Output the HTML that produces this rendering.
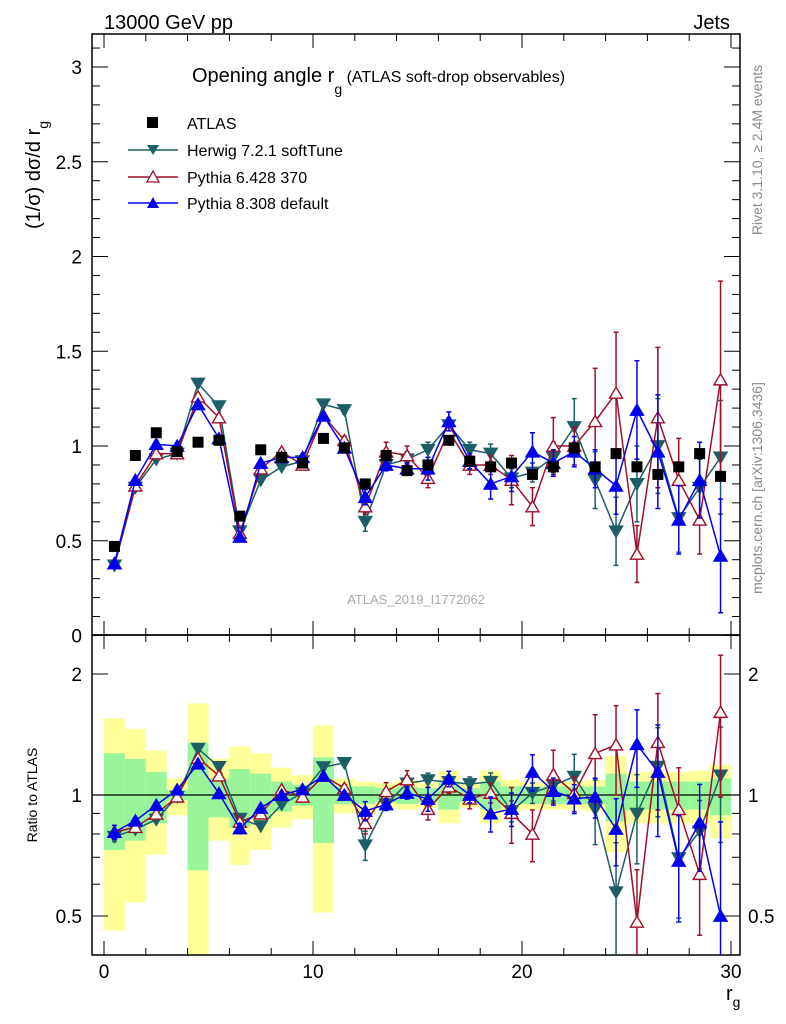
<!DOCTYPE html>
<html><head><meta charset="utf-8"><style>
html,body{margin:0;background:#fff;overflow:hidden;width:786px;height:1024px;}
svg{display:block;font-family:"Liberation Sans",sans-serif;overflow:hidden;}
</style></head><body>
<svg id="chart" width="786" height="1024" viewBox="0 0 786 1024">
<text x="104" y="29" font-size="20">13000 GeV pp</text>
<text x="730" y="29" font-size="20" text-anchor="end">Jets</text>
<text x="192" y="82" font-size="20">Opening angle r<tspan font-size="14" dy="12">g</tspan><tspan font-size="16" dy="-12"> (ATLAS soft-drop observables)</tspan></text>
<text transform="translate(40,175) rotate(-90)" font-size="20" text-anchor="middle">(1/σ) dσ/d r<tspan font-size="14" dy="8">g</tspan></text>
<text transform="translate(37,795) rotate(-90)" font-size="14" text-anchor="middle">Ratio to ATLAS</text>
<text transform="translate(762,150) rotate(-90)" font-size="14" fill="#888" text-anchor="middle">Rivet 3.1.10, ≥ 2.4M events</text>
<text transform="translate(762,488) rotate(-90)" font-size="14" fill="#888" text-anchor="middle">mcplots.cern.ch [arXiv:1306.3436]</text>
<text x="416" y="604" font-size="13" fill="#aaa" text-anchor="middle">ATLAS_2019_I1772062</text>
<text x="726" y="1000" font-size="20">r<tspan font-size="14" dy="7">g</tspan></text>
<g id="bands"></g><g id="axes"></g><g id="marks"></g>
<g>
<rect x="147" y="117" width="11" height="11" fill="#000"/>
<text x="187" y="129" font-size="16">ATLAS</text>
<line x1="128" y1="150" x2="178" y2="150" stroke="#1d5e66" stroke-width="1.5"/>
<path d="M147,145 L159,145 L153,155Z" fill="#1d5e66"/>
<text x="187" y="156" font-size="16">Herwig 7.2.1 softTune</text>
<line x1="128" y1="177" x2="178" y2="177" stroke="#a0102a" stroke-width="1.5"/>
<path d="M147,182 L159,182 L153,171Z" fill="#fff" stroke="#a0102a" stroke-width="1.3"/>
<text x="187" y="183" font-size="16">Pythia 6.428 370</text>
<line x1="128" y1="203" x2="178" y2="203" stroke="#0000ee" stroke-width="1.5"/>
<path d="M147,208 L159,208 L153,197Z" fill="#0000ee"/>
<text x="187" y="209" font-size="16">Pythia 8.308 default</text>
</g>
</svg>
<script>
const bins=[0.5,1.5,2.5,3.5,4.5,5.5,6.5,7.5,8.5,9.5,10.5,11.5,12.5,13.5,14.5,15.5,16.5,17.5,18.5,19.5,20.5,21.5,22.5,23.5,24.5,25.5,26.5,27.5,28.5,29.5];
const atlas=[0.47,0.95,1.07,0.97,1.02,1.03,0.63,0.98,0.94,0.91,1.04,0.99,0.80,0.95,0.87,0.90,1.03,0.92,0.89,0.91,0.85,0.89,0.99,0.89,0.96,0.89,0.85,0.89,0.96,0.84];
const herwig=[0.37,0.78,0.93,0.96,1.33,1.21,0.55,0.82,0.89,0.92,1.22,1.19,0.60,0.90,0.93,0.98,1.11,0.98,0.96,0.83,0.86,0.94,1.10,0.82,0.55,0.80,1.00,0.62,0.78,0.94];
const herwigErr=[0.01,0.01,0.01,0.01,0.01,0.01,0.01,0.01,0.01,0.01,0.01,0.02,0.05,0.03,0.04,0.04,0.04,0.04,0.05,0.05,0.05,0.08,0.15,0.15,0.18,0.2,0.25,0.18,0.15,0.3];
const py6=[0.38,0.79,0.96,0.96,1.26,1.15,0.54,0.88,0.97,0.90,1.16,1.03,0.68,0.97,0.95,0.83,1.08,0.90,0.90,0.82,0.68,1.00,1.00,1.13,1.28,0.43,1.15,0.82,0.61,1.35];
const py6Err=[0.015,0.015,0.015,0.015,0.015,0.015,0.015,0.015,0.015,0.015,0.015,0.02,0.04,0.05,0.05,0.05,0.04,0.05,0.05,0.13,0.1,0.15,0.1,0.28,0.32,0.15,0.37,0.22,0.18,0.52];
const py8=[0.38,0.82,1.01,1.00,1.22,1.04,0.52,0.91,0.94,0.94,1.16,0.99,0.73,0.90,0.88,0.88,1.13,0.92,0.80,0.84,0.97,0.91,0.97,0.88,0.79,1.19,0.97,0.61,0.82,0.42];
const py8Err=[0.015,0.015,0.015,0.015,0.015,0.015,0.015,0.015,0.015,0.015,0.015,0.02,0.04,0.03,0.03,0.06,0.05,0.04,0.08,0.08,0.1,0.07,0.08,0.1,0.15,0.26,0.3,0.18,0.2,0.3];
const yellowHi=[1.55,1.46,1.29,1.10,1.69,1.23,1.32,1.27,1.17,1.12,1.49,1.10,1.08,1.07,1.09,1.07,1.15,1.07,1.15,1.09,1.08,1.08,1.08,1.09,1.25,1.14,1.14,1.14,1.15,1.19];
const yellowLo=[0.46,0.54,0.71,0.89,0.30,0.77,0.67,0.73,0.83,0.87,0.51,0.90,0.90,0.93,0.92,0.93,0.85,0.93,0.85,0.91,0.92,0.92,0.92,0.91,0.72,0.85,0.85,0.85,0.85,0.78];
const greenHi=[1.27,1.23,1.14,1.03,1.35,1.10,1.16,1.13,1.08,1.06,1.24,1.05,1.05,1.04,1.05,1.04,1.08,1.04,1.08,1.05,1.05,1.05,1.05,1.05,1.13,1.08,1.08,1.08,1.08,1.10];
const greenLo=[0.73,0.77,0.85,0.97,0.65,0.88,0.83,0.87,0.91,0.94,0.76,0.95,0.95,0.96,0.95,0.96,0.92,0.96,0.92,0.95,0.95,0.95,0.95,0.95,0.86,0.92,0.92,0.92,0.92,0.89];
const mainTicks=[0,0.5,1,1.5,2,2.5,3];
const mainTickLabels=["0","0.5","1","1.5","2","2.5","3"];
const ratioTicks=[0.5,1,2];
const ratioTickLabels=["0.5","1","2"];
const xTicks=[0,10,20,30];
const xTickLabels=["0","10","20","30"];

const NS="http://www.w3.org/2000/svg";
const L=92,R=740,T=34,MB=635,RB=955;
const X=v=>104+v*20.9;
const Y=v=>635.5-189.5*v;
const YR=r=>795-402*Math.log10(r);
function el(tag,a,p){const e=document.createElementNS(NS,tag);for(const k in a)e.setAttribute(k,a[k]);p.appendChild(e);return e;}
const bandsG=document.getElementById('bands'),axesG=document.getElementById('axes'),marksG=document.getElementById('marks');
const clipTop=el('clipPath',{id:'cm'},marksG);el('rect',{x:L,y:T,width:R-L,height:MB-T},clipTop);
const clipBot=el('clipPath',{id:'cr'},marksG);el('rect',{x:L,y:MB,width:R-L,height:RB-MB},clipBot);
const bandClip=el('g',{'clip-path':'url(#cr)'},bandsG);
bins.forEach((b,i)=>{
  const x0=X(b-0.5),w=20.9;
  const y=el('rect',{x:x0,y:YR(yellowHi[i]),width:w,height:YR(yellowLo[i])-YR(yellowHi[i]),fill:'#ffff99'},bandClip);
  
  
  const g=el('rect',{x:x0,y:YR(greenHi[i]),width:w,height:YR(greenLo[i])-YR(greenHi[i]),fill:'#99f599'},bandClip);
  
  
});
el('rect',{x:L,y:T,width:R-L,height:MB-T,fill:'none',stroke:'#000','stroke-width':1.5},axesG);
el('rect',{x:L,y:MB,width:R-L,height:RB-MB,fill:'none',stroke:'#000','stroke-width':1.5},axesG);
el('line',{x1:L,y1:YR(1),x2:R,y2:YR(1),stroke:'#000','stroke-width':1.3},axesG);
for(let v=0;v<=3.25;v+=0.1){const y=Y(v);if(y<T)break;const maj=Math.abs(v*2-Math.round(v*2))<1e-6;const len=maj?16:8;
 el('line',{x1:L,y1:y,x2:L+len,y2:y,stroke:'#000'},axesG);el('line',{x1:R,y1:y,x2:R-len,y2:y,stroke:'#000'},axesG);}
mainTicks.forEach((v,i)=>{const t=el('text',{x:82,y:Y(v)+7,'font-size':19,'text-anchor':'end'},axesG);t.textContent=mainTickLabels[i];
 
 });
[0.4,0.5,0.6,0.7,0.8,0.9,1,2].forEach(v=>{const y=YR(v);const maj=(v===0.5||v===1||v===2);const len=maj?16:8;
 el('line',{x1:L,y1:y,x2:L+len,y2:y,stroke:'#000'},axesG);el('line',{x1:R,y1:y,x2:R-len,y2:y,stroke:'#000'},axesG);});
ratioTicks.forEach((v,i)=>{
 const t=el('text',{x:82,y:YR(v)+7,'font-size':19,'text-anchor':'end'},axesG);t.textContent=ratioTickLabels[i];
 
 
 const t2=el('text',{x:748,y:YR(v)+7,'font-size':19},axesG);t2.textContent=ratioTickLabels[i];
 
 });
for(let v=0;v<=30;v+=2){const x=X(v);const maj=v%10===0;const len=maj?14:7;
 el('line',{x1:x,y1:MB,x2:x,y2:MB-len,stroke:'#000'},axesG);el('line',{x1:x,y1:T,x2:x,y2:T+len,stroke:'#000'},axesG);
 el('line',{x1:x,y1:RB,x2:x,y2:RB-len,stroke:'#000'},axesG);el('line',{x1:x,y1:MB,x2:x,y2:MB+len,stroke:'#000'},axesG);}
xTicks.forEach((v,i)=>{const t=el('text',{x:X(v),y:978,'font-size':19,'text-anchor':'middle'},axesG);t.textContent=xTickLabels[i];
 
 });
const gm=el('g',{'clip-path':'url(#cm)'},marksG);
const gr=el('g',{'clip-path':'url(#cr)'},marksG);
function tri(g,x,y,down,col,fill){const s=6.5;const d=down?`M${x-s},${y-s*0.8} L${x+s},${y-s*0.8} L${x},${y+s*0.9}Z`:`M${x-s},${y+s*0.8} L${x+s},${y+s*0.8} L${x},${y-s*0.9}Z`;
 return el('path',{d:d,fill:fill?col:'#fff',stroke:col,'stroke-width':1.4},g);}
function series(vals,errs,col,down,fill,name){
 [[gm,v=>Y(v),vals.map((v,i)=>[v,v-errs[i],v+errs[i]])],[gr,v=>YR(v),vals.map((v,i)=>[v/atlas[i],(v-errs[i])/atlas[i],(v+errs[i])/atlas[i]])]].forEach(([g,fy,pts])=>{
  const line=el('polyline',{points:pts.map((p,i)=>X(bins[i])+','+fy(p[0])).join(' '),fill:'none',stroke:col,'stroke-width':1.5},g);
  
  
  pts.forEach((p,i)=>{const x=X(bins[i]);const lo=Math.max(p[1],0.01);
   el('line',{x1:x,y1:fy(lo),x2:x,y2:fy(p[2]),stroke:col,'stroke-width':1.5},g);
   el('line',{x1:x-2.5,y1:fy(lo),x2:x+2.5,y2:fy(lo),stroke:col,'stroke-width':1.5},g);
   el('line',{x1:x-2.5,y1:fy(p[2]),x2:x+2.5,y2:fy(p[2]),stroke:col,'stroke-width':1.5},g);
   const m=tri(g,x,fy(p[0]),down,col,fill);
   
   });
 });
}
series(herwig,herwigErr,'#1d5e66',true,true,'herwig');
series(py6,py6Err,'#a0102a',false,false,'pythia6');
series(py8,py8Err,'#0000ee',false,true,'pythia8');
atlas.forEach((v,i)=>{const r=el('rect',{x:X(bins[i])-5.5,y:Y(v)-5.5,width:11,height:11,fill:'#000'},gm);
 
 });
</script>
</body></html>
